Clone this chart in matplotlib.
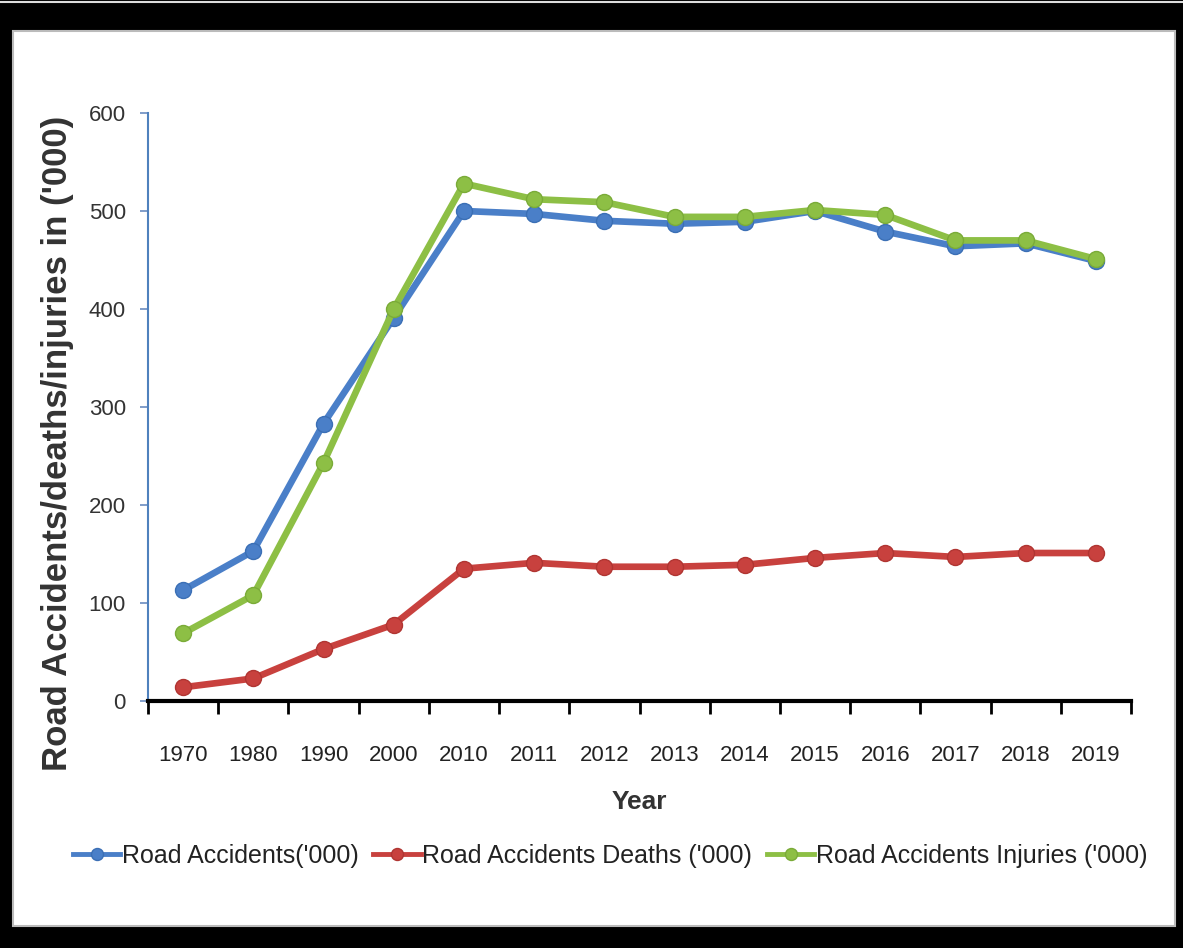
import matplotlib
matplotlib.use("Agg")
import matplotlib.pyplot as plt
from matplotlib.patches import Rectangle
from matplotlib.lines import Line2D

# ----------------------------- Dados ----------------------------- #
anos = ["1970", "1980", "1990", "2000", "2010", "2011", "2012",
        "2013", "2014", "2015", "2016", "2017", "2018", "2019"]
acidentes = [113, 153, 283, 391, 500, 497, 490, 487, 489, 500, 479, 464, 467, 449]
mortes = [14, 23, 53, 78, 135, 141, 137, 137, 139, 146, 151, 147, 151, 151]
feridos = [69, 108, 243, 400, 528, 512, 509, 494, 494, 501, 496, 470, 470, 451]

y_ticks = [0, 100, 200, 300, 400, 500, 600]

fonte = "Liberation Sans"
cor_azul = "#4A7FC8"
cor_verm = "#C8413E"
cor_verde = "#8DBF45"

fig = plt.figure(figsize=(11.83, 9.48), dpi=100, facecolor="black")

# moldura branca interna
fig.add_artist(Rectangle((13 / 1183, 1 - 926 / 948), (1175 - 13) / 1183, (926 - 31) / 948,
                         transform=fig.transFigure, facecolor="white",
                         edgecolor="#bbbbbb", linewidth=1.5, zorder=0))
fig.add_artist(Line2D([0, 1], [1 - 2 / 948, 1 - 2 / 948], transform=fig.transFigure,
                      color="#dddddd", linewidth=1.5))

ax = fig.add_axes([148 / 1183, 1 - 701 / 948, (1131 - 148) / 1183, (701 - 113) / 948])
ax.set_facecolor("white")

x = list(range(len(anos)))
estilo = dict(linewidth=4.8, marker="o", markersize=11.5)
ax.plot(x, acidentes, color=cor_azul, markeredgecolor="#3b6fb5", label="Road Accidents('000)", **estilo)
ax.plot(x, mortes, color=cor_verm, markeredgecolor="#b03532", label="Road Accidents Deaths ('000)", **estilo)
ax.plot(x, feridos, color=cor_verde, markeredgecolor="#7aab38", label="Road Accidents Injuries ('000)", **estilo)

ax.set_xlim(-0.5, len(anos) - 0.5)
ax.set_ylim(0, 600)

# eixo x: rotulos no centro, ticks nas divisorias
ax.set_xticks(x)
ax.set_xticklabels(anos, fontfamily=fonte, fontsize=16, color="#222222")
ax.tick_params(axis="x", which="major", length=0, pad=32)
ax.set_xticks([i - 0.5 for i in range(len(anos) + 1)], minor=True)
ax.tick_params(axis="x", which="minor", length=9, width=2, color="black", direction="out")

ax.set_yticks(y_ticks)
ax.set_yticklabels([str(v) for v in y_ticks], fontfamily=fonte, fontsize=16, color="#333333")
ax.tick_params(axis="y", length=6, width=1.2, color="#6b8cc0", pad=10)

for lado in ["top", "right"]:
    ax.spines[lado].set_visible(False)
ax.spines["left"].set_color("#4F81BD")
ax.spines["left"].set_linewidth(1.5)
ax.spines["bottom"].set_color("black")
ax.spines["bottom"].set_linewidth(3)

ax.set_xlabel("Year", fontfamily=fonte, fontweight="bold", fontsize=19, color="#333333", labelpad=17)
fig.text(58 / 1183, 1 - 443 / 948, "Road Accidents/deaths/injuries in ('000)", rotation=90,
         ha="center", va="center", fontfamily=fonte, fontweight="bold",
         fontsize=25, color="#333333")

leg = fig.legend(loc="center", bbox_to_anchor=(610 / 1183, 1 - 856 / 948), ncol=3,
                 frameon=False, prop={"family": fonte, "size": 18}, handlelength=1.9,
                 handletextpad=0.05, columnspacing=0.6, markerscale=0.75)
for t in leg.get_texts():
    t.set_color("#222222")
for h in leg.get_lines():
    h.set_linewidth(3.5)

fig.savefig("out.png", dpi=100, facecolor="black")
